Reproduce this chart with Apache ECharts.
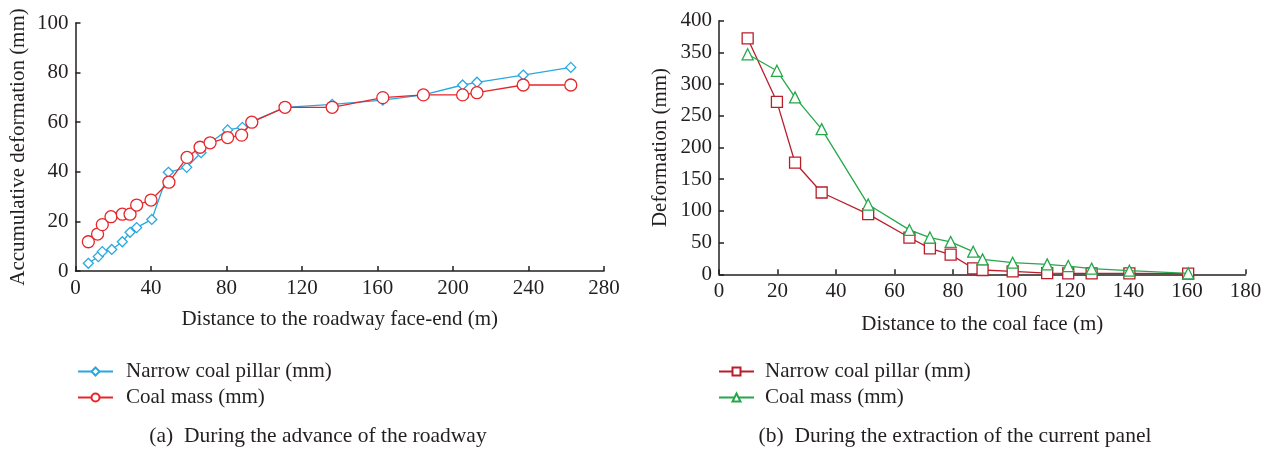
<!DOCTYPE html>
<html>
<head>
<meta charset="utf-8">
<script src="https://cdn.jsdelivr.net/npm/echarts@6/dist/echarts.min.js"></script>
<style>
  html, body { margin: 0; padding: 0; background: #fff; }
  #chart-container { width: 1271px; height: 451px; }
</style>
</head>
<body>
<div id="chart-container"></div>
<script>
// (a) advance of the roadway: [distance (m), deformation (mm)]
const roadwayNarrow = [
    [6.8, 3.1], [12.1, 5.8], [14.2, 7.8], [19.2, 8.7], [24.8, 11.8], [28.9, 15.6],
    [32.4, 17.5], [40.4, 20.8], [49.2, 39.8], [58.9, 41.8], [66.5, 47.7], [71.3, 51.7],
    [80.6, 56.9], [88.4, 57.9], [93.4, 60.2], [111, 66], [136, 67.2], [162.8, 68.9],
    [184.3, 71], [205.1, 75], [212.7, 76.1], [237.2, 79], [262.4, 82.1]
];
const roadwayCoal = [
    [6.8, 11.8], [11.7, 14.9], [14.2, 18.7], [18.8, 21.9], [24.8, 22.9], [28.9, 22.9],
    [32.4, 26.6], [40, 28.6], [49.5, 35.8], [59.1, 45.8], [66, 49.9], [71.3, 51.7],
    [80.6, 53.8], [88, 54.8], [93.4, 60], [111, 66], [136, 66], [162.8, 69.9],
    [184.3, 71], [205.1, 71], [212.7, 71.9], [237.2, 75], [262.4, 75]
];

// (b) extraction of the current panel
const panelNarrow = [
    [9.8, 372], [19.8, 272], [26, 176], [35.1, 129], [51, 95], [65.1, 58], [72.1, 41],
    [79.2, 31], [86.9, 9.5], [90.1, 6.8], [100.4, 4.7], [112.2, 2], [119.4, 1.5],
    [127.4, 1.5], [140.3, 1.5], [160.4, 1]
];
const panelCoal = [
    [9.8, 347], [19.8, 321], [26, 279], [35.1, 229], [51, 110], [65.1, 70], [72.1, 58],
    [79.2, 51], [86.9, 35.7], [90.1, 23.6], [100.4, 18.3], [112.2, 15.7], [119.4, 13],
    [127.4, 8.9], [140.3, 5.7], [160.4, 1.6]
];

const captions = ['(a)  During the advance of the roadway', '(b)  During the extraction of the current panel'];

const serif = '"Liberation Serif", "DejaVu Serif", serif';
const ink = '#231f20';
const fs = 21;

const axisCommon = {
    axisLine: { show: true, lineStyle: { color: ink, width: 1.5 } },
    axisTick: { show: true, inside: true, length: 5, lineStyle: { color: ink, width: 1.5 } },
    axisLabel: { color: ink, fontFamily: serif, fontSize: fs, margin: 7 },
    splitLine: { show: false },
    nameTextStyle: { color: ink, fontFamily: serif, fontSize: fs },
    nameLocation: 'middle'
};

const lineSeries = (name, data, color, symbol, size, idx, z) => ({
    name: name,
    type: 'line',
    xAxisIndex: idx,
    yAxisIndex: idx,
    data: data,
    symbol: symbol,
    symbolSize: size,
    showAllSymbol: true,
    itemStyle: { color: '#fff', borderColor: color, borderWidth: 1.3 },
    lineStyle: { color: color, width: 1.3 },
    emphasis: { disabled: true },
    z: z
});

const legendText = { fontFamily: serif, fontSize: fs, color: ink };

const container = echarts.init(document.getElementById('chart-container'));

const cfg = {
    animation: false,
    backgroundColor: '#fff',
    graphic: [
        { type: 'text', x: 318, y: 436, style: { text: captions[0], fontFamily: serif, fontSize: 21.5,
            fill: ink, align: 'center', verticalAlign: 'middle' } },
        { type: 'text', x: 955, y: 436, style: { text: captions[1], fontFamily: serif, fontSize: 21.5,
            fill: ink, align: 'center', verticalAlign: 'middle' } }
    ],
    legend: [
        { data: ['Narrow coal pillar (mm)', 'Coal mass (mm)'], orient: 'vertical',
          left: 72, top: 356, itemWidth: 35, itemHeight: 10, itemGap: 5,
          textStyle: Object.assign({ padding: [0, 0, 0, 8] }, legendText) },
        { data: ['Narrow coal pillar (mm) ', 'Coal mass (mm) '], orient: 'vertical',
          left: 713, top: 356, itemWidth: 35, itemHeight: 10, itemGap: 5,
          textStyle: Object.assign({ padding: [0, 0, 0, 6] }, legendText) }
    ],
    grid: [
        { left: 75.5, top: 23, width: 528.5, height: 248 },
        { left: 719, top: 20.7, width: 526.5, height: 253.6 }
    ],
    xAxis: [
        Object.assign({}, axisCommon, { gridIndex: 0, type: 'value', min: 0, max: 280, interval: 40,
            name: 'Distance to the roadway face-end (m)', nameGap: 38 }),
        Object.assign({}, axisCommon, { gridIndex: 1, type: 'value', min: 0, max: 180, interval: 20,
            name: 'Distance to the coal face (m)', nameGap: 40 })
    ],
    yAxis: [
        Object.assign({}, axisCommon, { gridIndex: 0, type: 'value', min: 0, max: 100, interval: 20,
            name: 'Accumulative deformation (mm)', nameGap: 47 }),
        Object.assign({}, axisCommon, { gridIndex: 1, type: 'value', min: 0, max: 400, interval: 50,
            name: 'Deformation (mm)', nameGap: 48 })
    ],
    series: [
        lineSeries('Narrow coal pillar (mm)', roadwayNarrow, '#29a8e0', 'diamond', 10, 0, 2),
        lineSeries('Coal mass (mm)', roadwayCoal, '#e8262a', 'circle', 12, 0, 3),
        lineSeries('Narrow coal pillar (mm) ', panelNarrow, '#b91e2b', 'rect', 11, 1, 2),
        lineSeries('Coal mass (mm) ', panelCoal, '#25a84a', 'triangle', 11, 1, 3)
    ]
};

container.setOption(cfg);
</script>
</body>
</html>
